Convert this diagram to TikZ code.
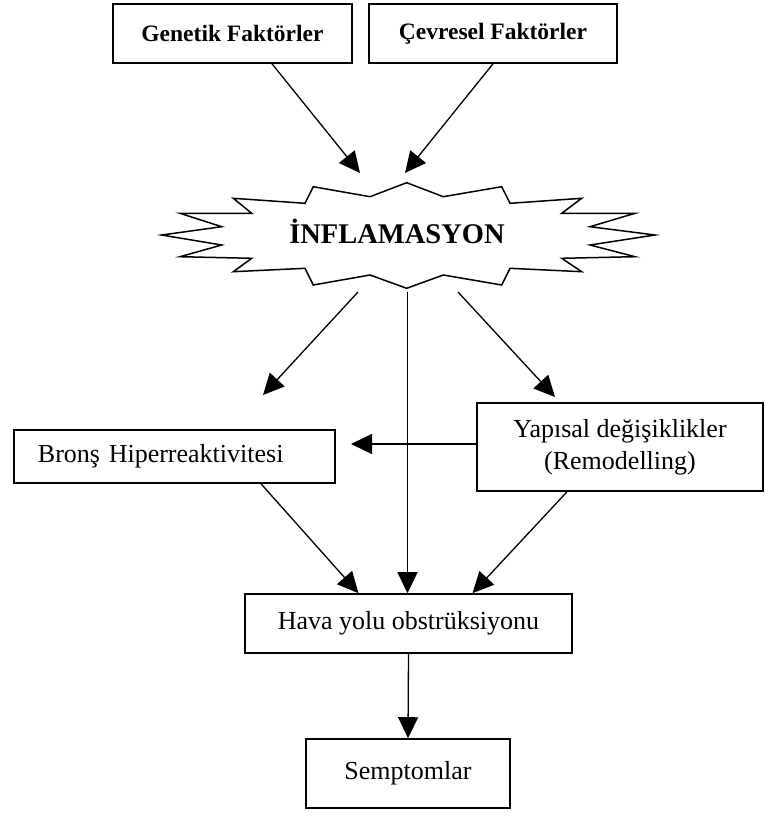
\documentclass[tikz,border=0pt]{standalone}
\usepackage{fontspec}
\setmainfont{Liberation Serif}
\usetikzlibrary{arrows.meta}
\begin{document}
\begin{tikzpicture}[x=1pt,y=-1pt,
  box/.style={draw, line width=1.6pt, inner sep=0pt, align=center,
              font=\fontsize{26}{32}\selectfont},
  bbox/.style={box, font=\fontsize{23.5}{28}\selectfont\bfseries},
  arr/.style={line width=1.3pt, -{Triangle[length=21pt,width=20pt]}},
  burst/.style={draw, line width=1.5pt, line join=miter}]
\useasboundingbox (0,0) rectangle (765,814);

% top boxes
\node[bbox, minimum width=239pt, minimum height=59pt] (gen) at (232.5,33.5) {Genetik Faktörler};
\node[bbox, minimum width=248pt, minimum height=59pt] (cev) at (493,33.5) {Çevresel Faktörler};

% starburst
\draw[burst] (161.7,235) -- (221.7,226.7) -- (180,213.3) -- (251.7,213.3) -- (233.3,198.3)
  -- (305,203.3) -- (313.3,186.7) -- (370,196.7) -- (406.7,182.7) -- (443.3,196.7)
  -- (501.7,186.7) -- (510,203.3) -- (581.7,198.3) -- (561.7,213.3) -- (635,213.3)
  -- (590,226.7) -- (655,235) -- (590,245) -- (635,256.7) -- (561.7,258.3)
  -- (581.7,271.7) -- (510,268.3) -- (501.7,285) -- (443.3,275) -- (406.7,288.3)
  -- (370,275) -- (313.3,285) -- (305,268.3) -- (233.3,271.7) -- (251.7,258.3)
  -- (180,256.7) -- (221.7,245) -- cycle;
\node[font=\fontsize{28.5}{32}\selectfont\bfseries, inner sep=0pt] (inf) at (397,231) {İNFLAMASYON};

% middle and lower boxes
\node[box, minimum width=321pt, minimum height=53pt, text width=321pt, align=left] (bron) at (174.5,456.5)
  {\hspace*{24pt}Bronş Hiperreaktivitesi};
\node[box, minimum width=286pt, minimum height=88pt] (yap) at (620,447)
  {Yapısal değişiklikler\\(Remodelling)};
\node[box, minimum width=327pt, minimum height=59pt] (hava) at (408.5,623.5) {Hava yolu obstrüksiyonu};
\node[box, minimum width=204pt, minimum height=69pt] (semp) at (408,773.5) {Semptomlar};

% coordinates for free ends
\coordinate (g1) at (360,173);
\coordinate (c1) at (405,173);
\coordinate (ib1) at (358,292);
\coordinate (ib2) at (407.5,292);
\coordinate (ib3) at (458,292);
\coordinate (bt) at (263,395);
\coordinate (yt) at (555,397);
\coordinate (bh) at (351,444);

% connectors
\draw[arr] ([xshift=39.5pt]gen.south) -- (g1);
\draw[arr] (cev.south) -- (c1);
\draw[arr] (ib1) -- (bt);
\draw[arr] (ib3) -- (yt);
\draw[arr] (ib2) -- (ib2 |- hava.north);
\draw[arr] (yap.west |- bh) -- (bh);
\draw[arr] ([xshift=86.5pt]bron.south) -- ([xshift=-50pt]hava.north);
\draw[arr] ([xshift=-53pt]yap.south) -- ([xshift=64pt]hava.north);
\draw[arr] (hava.south) -- (semp.north);
\end{tikzpicture}
\end{document}
